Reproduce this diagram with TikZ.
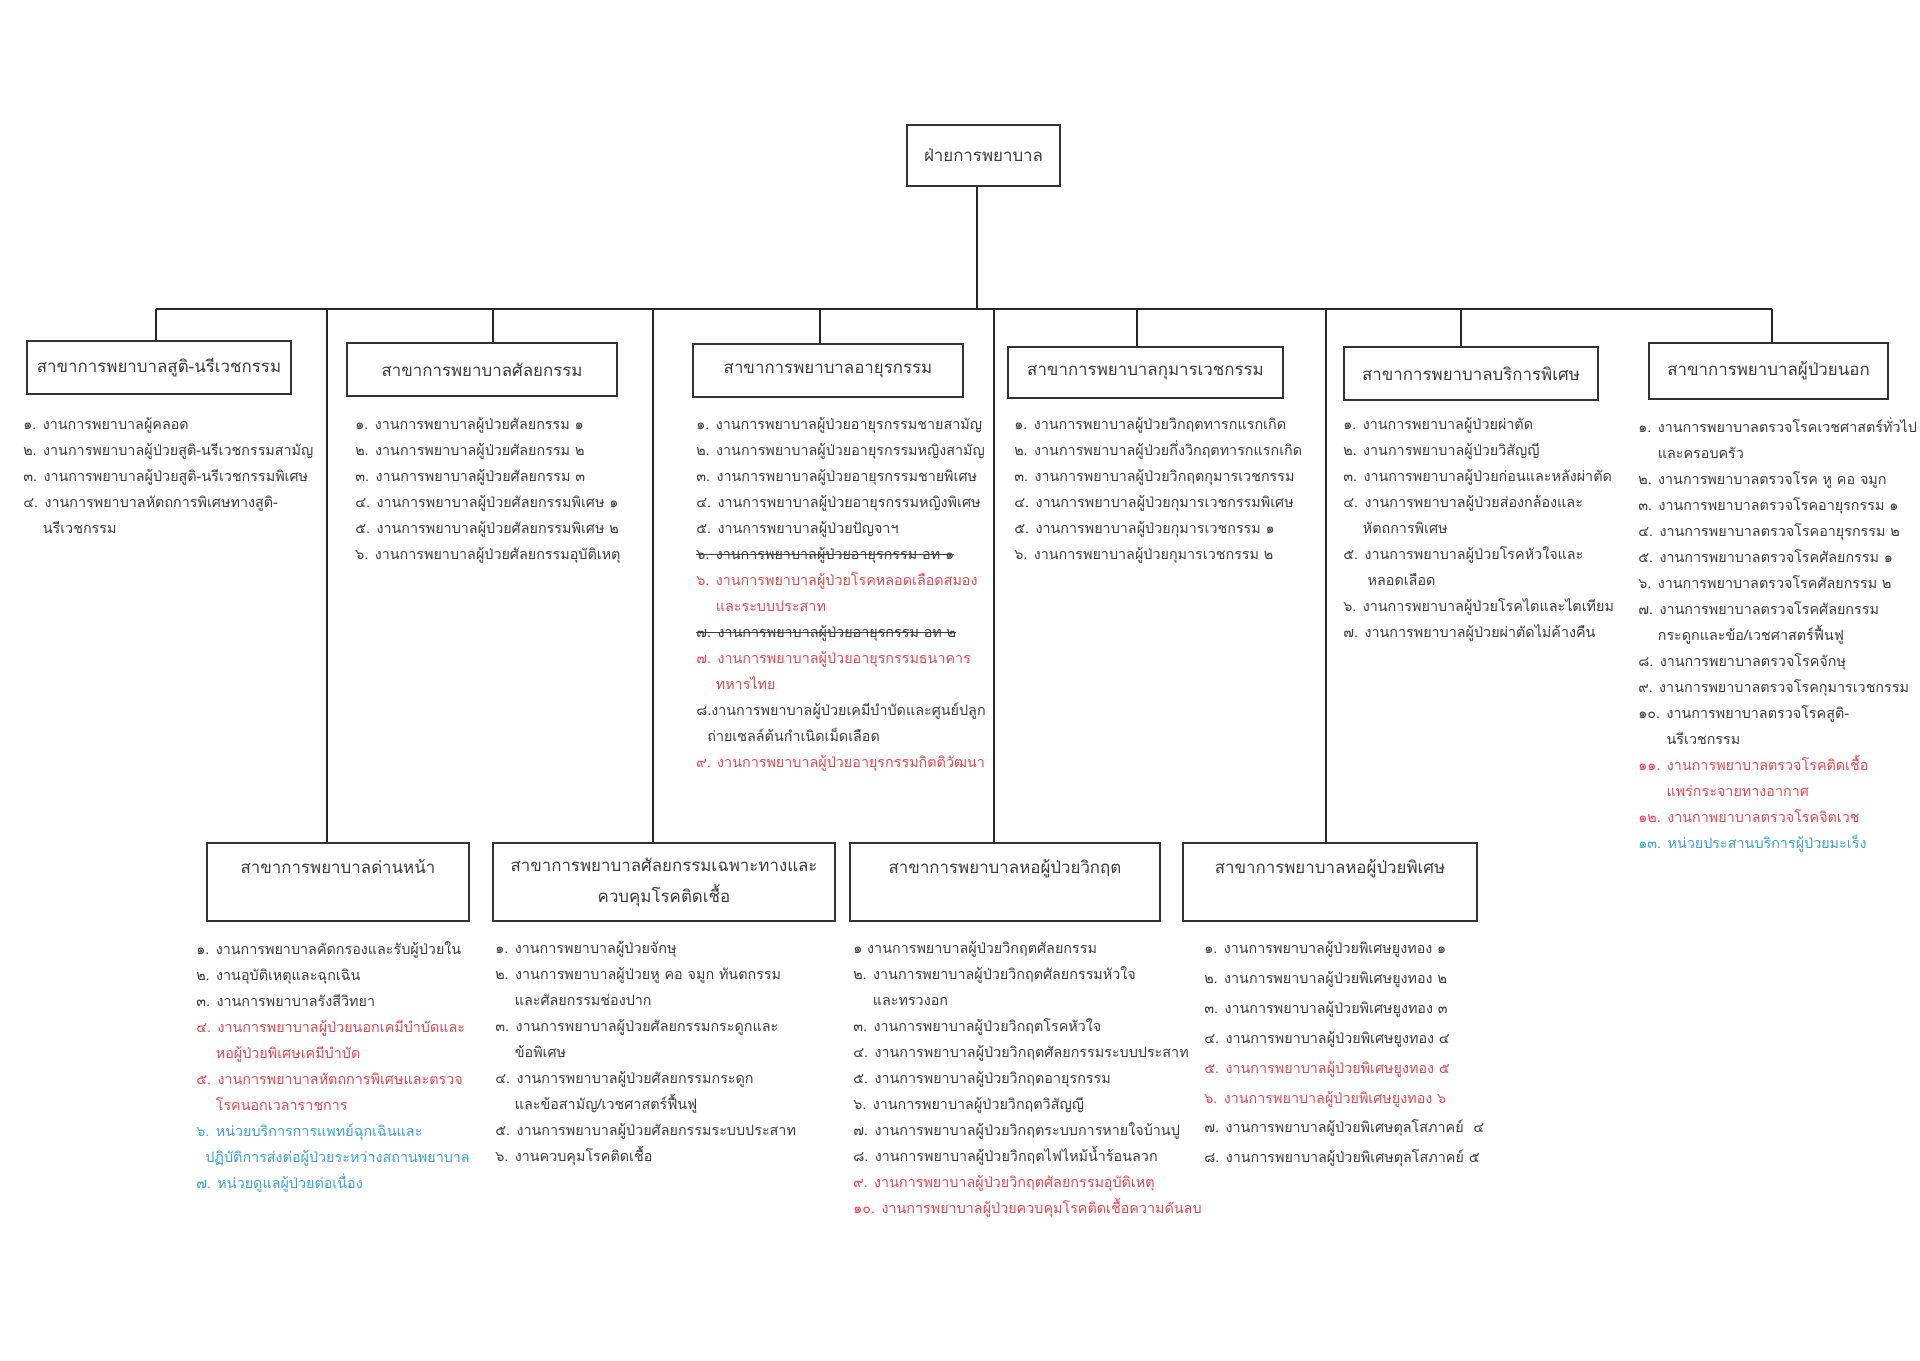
\documentclass[tikz,border=0pt]{standalone}
\usepackage{fontspec}
\setmainfont[Script=Thai]{Loma}
\usetikzlibrary{positioning}
\usepackage{xcolor}
\definecolor{tgray}{RGB}{60,60,60}
\definecolor{tred}{RGB}{228,70,80}
\definecolor{tblue}{RGB}{60,160,220}
\newcommand\strk[1]{\setbox0\hbox{#1}\rlap{\rule[0.6ex]{\wd0}{0.8pt}}\box0}
\newcommand\ind{\phantom{๑. }}
\newcommand\indd{\phantom{๑๐. }}
\newcommand\titlefont{\fontsize{12}{22}\selectfont}
\newcommand\itemfont{\fontsize{10.2}{18.5}\selectfont}

\begin{document}
\begin{tikzpicture}[x=0.025cm, y=-0.025cm]
            \tikzstyle{branch} = [rectangle, draw=black!80, line width=0.9pt, text=tgray, font=\titlefont, align=center, inner sep=0pt, minimum height=1.325cm]
            \tikzstyle{lowbranch} = [branch, minimum height=1.95cm]
            \tikzstyle{items} = [anchor=north west, align=left, inner sep=0pt, text=tgray, font=\itemfont, execute at begin node={\rule{0pt}{14pt}}]
            \tikzstyle{link} = [draw=black!85, line width=0.9pt]

            \useasboundingbox (0,0) rectangle (1920,1361);

            \node (head)[branch, minimum width=3.825cm, minimum height=1.525cm] at (983.5,155.5) {ฝ่ายการพยาบาล};

            % upper row
            \node (obgyn)[branch, minimum width=6.6cm] at (159,367.5) {สาขาการพยาบาลสูติ-นรีเวชกรรม};
            \node (surg)[branch, minimum width=6.75cm] at (482,369.5) {สาขาการพยาบาลศัลยกรรม};
            \node (med)[branch, minimum width=6.75cm] at (828,370.5) {สาขาการพยาบาลอายุรกรรม};
            \node (ped)[branch, minimum width=6.875cm, minimum height=1.275cm] at (1145.5,372.5) {สาขาการพยาบาลกุมารเวชกรรม};
            \node (special)[branch, minimum width=6.35cm] at (1471,373.5) {สาขาการพยาบาลบริการพิเศษ};
            \node (opd)[branch, minimum width=5.975cm, minimum height=1.4cm] at (1768.5,371) {สาขาการพยาบาลผู้ป่วยนอก};

            % lower row
            \node (front)[lowbranch, minimum width=6.55cm] at (338,882) {สาขาการพยาบาลด่านหน้า\\ ~};
            \node (spsurg)[lowbranch, minimum width=8.55cm] at (664,882) {สาขาการพยาบาลศัลยกรรมเฉพาะทางและ\\ ควบคุมโรคติดเชื้อ};
            \node (icu)[lowbranch, minimum width=7.75cm] at (1005,882) {สาขาการพยาบาลหอผู้ป่วยวิกฤต\\ ~};
            \node (private)[lowbranch, minimum width=7.35cm] at (1330,882) {สาขาการพยาบาลหอผู้ป่วยพิเศษ\\ ~};

            % connectors
            \coordinate (bus) at (977,309);
            \coordinate (up1) at (156,309);
            \coordinate (up2) at (493,309);
            \coordinate (up3) at (820,309);
            \coordinate (up4) at (1137,309);
            \coordinate (up5) at (1461,309);
            \coordinate (up6) at (1772,309);
            \coordinate (down1) at (327,309);
            \coordinate (down2) at (653,309);
            \coordinate (down3) at (994,309);
            \coordinate (down4) at (1326,309);
            \draw [link] (head.south -| bus) -- (bus);
            \draw [link] (up1) -- (up6);
            \draw [link] (up1) -- (up1 |- obgyn.north);
            \draw [link] (up2) -- (up2 |- surg.north);
            \draw [link] (up3) -- (up3 |- med.north);
            \draw [link] (up4) -- (up4 |- ped.north);
            \draw [link] (up5) -- (up5 |- special.north);
            \draw [link] (up6) -- (up6 |- opd.north);
            \draw [link] (down1) -- (down1 |- front.north);
            \draw [link] (down2) -- (down2 |- spsurg.north);
            \draw [link] (down3) -- (down3 |- icu.north);
            \draw [link] (down4) -- (down4 |- private.north);

            % upper lists
            \node (obgynlist)[items] at (23,417) {%
              ๑. งานการพยาบาลผู้คลอด\\
              ๒. งานการพยาบาลผู้ป่วยสูติ-นรีเวชกรรมสามัญ\\
              ๓. งานการพยาบาลผู้ป่วยสูติ-นรีเวชกรรมพิเศษ\\
              ๔. งานการพยาบาลหัตถการพิเศษทางสูติ-\\
              \ind นรีเวชกรรม};
            \node (surglist)[items] at (355,417) {%
              ๑. งานการพยาบาลผู้ป่วยศัลยกรรม ๑\\
              ๒. งานการพยาบาลผู้ป่วยศัลยกรรม ๒\\
              ๓. งานการพยาบาลผู้ป่วยศัลยกรรม ๓\\
              ๔. งานการพยาบาลผู้ป่วยศัลยกรรมพิเศษ ๑\\
              ๕. งานการพยาบาลผู้ป่วยศัลยกรรมพิเศษ ๒\\
              ๖. งานการพยาบาลผู้ป่วยศัลยกรรมอุบัติเหตุ};
            \node (medlist)[items] at (696,417) {%
              ๑. งานการพยาบาลผู้ป่วยอายุรกรรมชายสามัญ\\
              ๒. งานการพยาบาลผู้ป่วยอายุรกรรมหญิงสามัญ\\
              ๓. งานการพยาบาลผู้ป่วยอายุรกรรมชายพิเศษ\\
              ๔. งานการพยาบาลผู้ป่วยอายุรกรรมหญิงพิเศษ\\
              ๕. งานการพยาบาลผู้ป่วยปัญจาฯ\\
              \strk{๖. งานการพยาบาลผู้ป่วยอายุรกรรม อท ๑}\\
              \textcolor{tred}{๖. งานการพยาบาลผู้ป่วยโรคหลอดเลือดสมอง}\\
              \textcolor{tred}{\ind และระบบประสาท}\\
              \strk{๗. งานการพยาบาลผู้ป่วยอายุรกรรม อท ๒}\\
              \textcolor{tred}{๗. งานการพยาบาลผู้ป่วยอายุรกรรมธนาคาร}\\
              \textcolor{tred}{\ind ทหารไทย}\\
              ๘.งานการพยาบาลผู้ป่วยเคมีบำบัดและศูนย์ปลูก\\
              \phantom{๘}ถ่ายเซลล์ต้นกำเนิดเม็ดเลือด\\
              \textcolor{tred}{๙. งานการพยาบาลผู้ป่วยอายุรกรรมกิตติวัฒนา}};
            \node (pedlist)[items] at (1014,417) {%
              ๑. งานการพยาบาลผู้ป่วยวิกฤตทารกแรกเกิด\\
              ๒. งานการพยาบาลผู้ป่วยกึ่งวิกฤตทารกแรกเกิด\\
              ๓. งานการพยาบาลผู้ป่วยวิกฤตกุมารเวชกรรม\\
              ๔. งานการพยาบาลผู้ป่วยกุมารเวชกรรมพิเศษ\\
              ๕. งานการพยาบาลผู้ป่วยกุมารเวชกรรม ๑\\
              ๖. งานการพยาบาลผู้ป่วยกุมารเวชกรรม ๒};
            \node (speciallist)[items] at (1343,417) {%
              ๑. งานการพยาบาลผู้ป่วยผ่าตัด\\
              ๒. งานการพยาบาลผู้ป่วยวิสัญญี\\
              ๓. งานการพยาบาลผู้ป่วยก่อนและหลังผ่าตัด\\
              ๔. งานการพยาบาลผู้ป่วยส่องกล้องและ\\
              \ind หัตถการพิเศษ\\
              ๕. งานการพยาบาลผู้ป่วยโรคหัวใจและ\\
              \ind\ หลอดเลือด\\
              ๖. งานการพยาบาลผู้ป่วยโรคไตและไตเทียม\\
              ๗. งานการพยาบาลผู้ป่วยผ่าตัดไม่ค้างคืน};
            \node (opdlist)[items] at (1638,417) {%
              ๑. งานการพยาบาลตรวจโรคเวชศาสตร์ทั่วไป\\
              \ind และครอบครัว\\
              ๒. งานการพยาบาลตรวจโรค หู คอ จมูก\\
              ๓. งานการพยาบาลตรวจโรคอายุรกรรม ๑\\
              ๔. งานการพยาบาลตรวจโรคอายุรกรรม ๒\\
              ๕. งานการพยาบาลตรวจโรคศัลยกรรม ๑\\
              ๖. งานการพยาบาลตรวจโรคศัลยกรรม ๒\\
              ๗. งานการพยาบาลตรวจโรคศัลยกรรม\\
              \ind กระดูกและข้อ/เวชศาสตร์ฟื้นฟู\\
              ๘. งานการพยาบาลตรวจโรคจักษุ\\
              ๙. งานการพยาบาลตรวจโรคกุมารเวชกรรม\\
              ๑๐. งานการพยาบาลตรวจโรคสูติ-\\
              \indd นรีเวชกรรม\\
              \textcolor{tred}{๑๑. งานการพยาบาลตรวจโรคติดเชื้อ}\\
              \textcolor{tred}{\indd แพร่กระจายทางอากาศ}\\
              \textcolor{tred}{๑๒. งานกาพยาบาลตรวจโรคจิตเวช}\\
              \textcolor{tblue}{๑๓. หน่วยประสานบริการผู้ป่วยมะเร็ง}};

            % lower lists
            \node (frontlist)[items] at (196,941) {%
              ๑. งานการพยาบาลคัดกรองและรับผู้ป่วยใน\\
              ๒. งานอุบัติเหตุและฉุกเฉิน\\
              ๓. งานการพยาบาลรังสีวิทยา\\
              \textcolor{tred}{๔. งานการพยาบาลผู้ป่วยนอกเคมีบำบัดและ}\\
              \textcolor{tred}{\ind หอผู้ป่วยพิเศษเคมีบำบัด}\\
              \textcolor{tred}{๕. งานการพยาบาลหัตถการพิเศษและตรวจ}\\
              \textcolor{tred}{\ind โรคนอกเวลาราชการ}\\
              \textcolor{tblue}{๖. หน่วยบริการการแพทย์ฉุกเฉินและ}\\
              \textcolor{tblue}{\phantom{๖}ปฏิบัติการส่งต่อผู้ป่วยระหว่างสถานพยาบาล}\\
              \textcolor{tblue}{๗. หน่วยดูแลผู้ป่วยต่อเนื่อง}};
            \node (spsurglist)[items] at (495,941) {%
              ๑. งานการพยาบาลผู้ป่วยจักษุ\\
              ๒. งานการพยาบาลผู้ป่วยหู คอ จมูก ทันตกรรม\\
              \ind และศัลยกรรมช่องปาก\\
              ๓. งานการพยาบาลผู้ป่วยศัลยกรรมกระดูกและ\\
              \ind ข้อพิเศษ\\
              ๔. งานการพยาบาลผู้ป่วยศัลยกรรมกระดูก\\
              \ind และข้อสามัญ/เวชศาสตร์ฟื้นฟู\\
              ๕. งานการพยาบาลผู้ป่วยศัลยกรรมระบบประสาท\\
              ๖. งานควบคุมโรคติดเชื้อ};
            \node (iculist)[items] at (853,941) {%
              ๑ งานการพยาบาลผู้ป่วยวิกฤตศัลยกรรม\\
              ๒. งานการพยาบาลผู้ป่วยวิกฤตศัลยกรรมหัวใจ\\
              \ind และทรวงอก\\
              ๓. งานการพยาบาลผู้ป่วยวิกฤตโรคหัวใจ\\
              ๔. งานการพยาบาลผู้ป่วยวิกฤตศัลยกรรมระบบประสาท\\
              ๕. งานการพยาบาลผู้ป่วยวิกฤตอายุรกรรม\\
              ๖. งานการพยาบาลผู้ป่วยวิกฤตวิสัญญี\\
              ๗. งานการพยาบาลผู้ป่วยวิกฤตระบบการหายใจบ้านปู\\
              ๘. งานการพยาบาลผู้ป่วยวิกฤตไฟไหม้น้ำร้อนลวก\\
              \textcolor{tred}{๙. งานการพยาบาลผู้ป่วยวิกฤตศัลยกรรมอุบัติเหตุ}\\
              \textcolor{tred}{๑๐. งานการพยาบาลผู้ป่วยควบคุมโรคติดเชื้อความดันลบ}};
            \node (privatelist)[items, font=\fontsize{10.2}{21.3}\selectfont] at (1204,941) {%
              ๑. งานการพยาบาลผู้ป่วยพิเศษยูงทอง ๑\\
              ๒. งานการพยาบาลผู้ป่วยพิเศษยูงทอง ๒\\
              ๓. งานการพยาบาลผู้ป่วยพิเศษยูงทอง ๓\\
              ๔. งานการพยาบาลผู้ป่วยพิเศษยูงทอง ๔\\
              \textcolor{tred}{๕. งานการพยาบาลผู้ป่วยพิเศษยูงทอง ๕}\\
              \textcolor{tred}{๖. งานการพยาบาลผู้ป่วยพิเศษยูงทอง ๖}\\
              ๗. งานการพยาบาลผู้ป่วยพิเศษตุลโสภาคย์ ~๔\\
              ๘. งานการพยาบาลผู้ป่วยพิเศษตุลโสภาคย์ ๕};
\end{tikzpicture}
\end{document}
